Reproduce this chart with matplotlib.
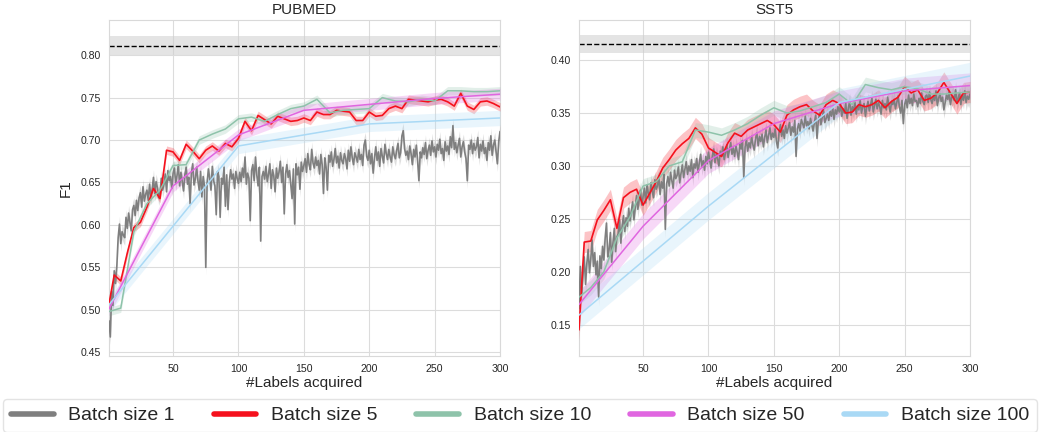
"""Active learning curves: F1 vs #labels acquired for different batch sizes."""
import matplotlib
matplotlib.use('Agg')
import matplotlib.pyplot as plt
from matplotlib.lines import Line2D
import numpy as np
import seaborn as sns

BATCHES = [1, 5, 10, 50, 100]
LABELS = ['Batch size 1', 'Batch size 5', 'Batch size 10', 'Batch size 50', 'Batch size 100']
COLORS = ['#7f7f7f', '#f5111d', '#8ec3aa', '#e066e0', '#a9d9f5']
WIDTHS = [1.2, 1.2, 1.1, 1.1, 1.1]

# ---- PUBMED ----
pubmed_b1 = [
    0.487, 0.468, 0.522, 0.505, 0.546, 0.531, 0.552, 0.585, 0.601, 0.578,
    0.592, 0.588, 0.585, 0.609, 0.596, 0.614, 0.603, 0.593, 0.618, 0.623,
    0.611, 0.629, 0.617, 0.632, 0.638, 0.621, 0.645, 0.628, 0.636, 0.641,
    0.629, 0.648, 0.633, 0.642, 0.656, 0.637, 0.651, 0.644, 0.632, 0.638,
    0.655, 0.641, 0.648, 0.660, 0.639, 0.664, 0.652, 0.657, 0.643, 0.661,
    0.667, 0.649, 0.658, 0.671, 0.646, 0.662, 0.651, 0.640, 0.659, 0.668,
    0.648, 0.656, 0.625, 0.661, 0.672, 0.647, 0.654, 0.668, 0.652, 0.641,
    0.663, 0.633, 0.657, 0.646, 0.550, 0.649, 0.666, 0.655, 0.641, 0.669,
    0.652, 0.646, 0.612, 0.663, 0.657, 0.609, 0.655, 0.648, 0.668, 0.622,
    0.659, 0.618, 0.651, 0.665, 0.654, 0.660, 0.643, 0.663, 0.655, 0.649,
    0.662, 0.651, 0.667, 0.656, 0.680, 0.648, 0.661, 0.655, 0.605, 0.664,
    0.671, 0.652, 0.680, 0.659, 0.646, 0.668, 0.581, 0.657, 0.663, 0.654,
    0.669, 0.651, 0.660, 0.672, 0.643, 0.665, 0.658, 0.639, 0.667, 0.655,
    0.662, 0.675, 0.650, 0.668, 0.613, 0.660, 0.671, 0.656, 0.664, 0.648,
    0.631, 0.666, 0.601, 0.672, 0.659, 0.668, 0.642, 0.674, 0.663, 0.670,
    0.678, 0.662, 0.684, 0.671, 0.665, 0.689, 0.673, 0.667, 0.680, 0.670,
    0.676, 0.660, 0.683, 0.671, 0.637, 0.679, 0.668, 0.641, 0.682, 0.674,
    0.686, 0.669, 0.677, 0.690, 0.673, 0.681, 0.667, 0.685, 0.676, 0.672,
    0.684, 0.678, 0.666, 0.688, 0.675, 0.692, 0.679, 0.671, 0.685, 0.680,
    0.674, 0.689, 0.677, 0.683, 0.670, 0.694, 0.700, 0.681, 0.676, 0.688,
    0.672, 0.684, 0.661, 0.679, 0.692, 0.676, 0.686, 0.669, 0.690, 0.681,
    0.673, 0.695, 0.684, 0.677, 0.689, 0.680, 0.674, 0.692, 0.683, 0.678,
    0.688, 0.696, 0.679, 0.685, 0.705, 0.711, 0.690, 0.682, 0.687, 0.677,
    0.693, 0.684, 0.671, 0.689, 0.680, 0.694, 0.675, 0.652, 0.686, 0.679,
    0.691, 0.683, 0.697, 0.678, 0.688, 0.694, 0.682, 0.699, 0.686, 0.692,
    0.680, 0.695, 0.688, 0.701, 0.684, 0.690, 0.676, 0.698, 0.687, 0.693,
    0.683, 0.704, 0.691, 0.717, 0.689, 0.697, 0.685, 0.694, 0.702, 0.680,
    0.692, 0.698, 0.686, 0.678, 0.652, 0.694, 0.689, 0.700, 0.684, 0.696,
    0.688, 0.692, 0.703, 0.679, 0.695, 0.687, 0.699, 0.684, 0.691, 0.676,
    0.697, 0.688, 0.705, 0.682, 0.694, 0.700, 0.686, 0.672, 0.698, 0.710,
]
pubmed_b5 = [
    0.507, 0.541, 0.534, 0.567, 0.597, 0.603, 0.621, 0.643, 0.631, 0.688,
    0.686, 0.676, 0.695, 0.687, 0.678, 0.688, 0.693, 0.687, 0.696, 0.692,
    0.702, 0.722, 0.711, 0.729, 0.724, 0.719, 0.728, 0.725, 0.722, 0.723,
    0.726, 0.723, 0.733, 0.730, 0.730, 0.735, 0.734, 0.733, 0.723, 0.723,
    0.733, 0.728, 0.729, 0.737, 0.740, 0.737, 0.748, 0.747, 0.746, 0.745,
    0.747, 0.748, 0.745, 0.740, 0.755, 0.740, 0.736, 0.745, 0.746, 0.743,
    0.739,
]
pubmed_b10 = [
    0.498, 0.502, 0.592, 0.625, 0.641, 0.670, 0.671, 0.700, 0.707, 0.713,
    0.725, 0.727, 0.722, 0.730, 0.737, 0.740, 0.748, 0.732, 0.735, 0.736,
    0.737, 0.750, 0.746, 0.745, 0.748, 0.746, 0.758, 0.758, 0.757, 0.757,
    0.758,
]
pubmed_b50 = [0.501, 0.646, 0.706, 0.735, 0.742, 0.749, 0.754]
pubmed_b100 = [0.506, 0.693, 0.719, 0.726]
pubmed_spread = [0.009, 0.005, 0.005, 0.007, 0.009]
pubmed_full = 0.811
pubmed_full_band = (0.800, 0.823)

# ---- SST5 ----
sst5_b1 = [
    0.165, 0.205, 0.178, 0.196, 0.214, 0.188, 0.208, 0.221, 0.199, 0.212,
    0.230, 0.205, 0.218, 0.197, 0.210, 0.176, 0.215, 0.203, 0.224, 0.211,
    0.232, 0.246, 0.214, 0.221, 0.237, 0.209, 0.228, 0.241, 0.219, 0.233,
    0.236, 0.249, 0.227, 0.244, 0.253, 0.238, 0.251, 0.243, 0.260, 0.248,
    0.257, 0.266, 0.249, 0.261, 0.272, 0.259, 0.268, 0.277, 0.263, 0.271,
    0.279, 0.265, 0.282, 0.274, 0.268, 0.284, 0.276, 0.270, 0.287, 0.278,
    0.281, 0.290, 0.273, 0.285, 0.279, 0.292, 0.240, 0.283, 0.290, 0.281,
    0.294, 0.286, 0.279, 0.296, 0.288, 0.291, 0.299, 0.284, 0.293, 0.301,
    0.289, 0.297, 0.304, 0.292, 0.300, 0.295, 0.306, 0.289, 0.302, 0.298,
    0.307, 0.294, 0.303, 0.311, 0.299, 0.305, 0.296, 0.309, 0.302, 0.313,
    0.305, 0.298, 0.310, 0.316, 0.303, 0.311, 0.307, 0.300, 0.314, 0.309,
    0.318, 0.306, 0.312, 0.320, 0.308, 0.315, 0.322, 0.311, 0.317, 0.309,
    0.319, 0.313, 0.306, 0.321, 0.316, 0.324, 0.289, 0.318, 0.325, 0.314,
    0.322, 0.317, 0.328, 0.320, 0.315, 0.326, 0.331, 0.319, 0.328, 0.323,
    0.330, 0.318, 0.327, 0.334, 0.322, 0.329, 0.336, 0.325, 0.331, 0.327,
    0.335, 0.323, 0.317, 0.332, 0.339, 0.328, 0.334, 0.326, 0.338, 0.331,
    0.336, 0.341, 0.329, 0.337, 0.332, 0.343, 0.309, 0.335, 0.340, 0.333,
    0.344, 0.340, 0.336, 0.347, 0.338, 0.342, 0.335, 0.345, 0.339, 0.333,
    0.341, 0.348, 0.326, 0.343, 0.350, 0.339, 0.346, 0.352, 0.341, 0.345,
    0.349, 0.343, 0.352, 0.347, 0.355, 0.344, 0.353, 0.349, 0.356, 0.351,
    0.358, 0.347, 0.354, 0.350, 0.359, 0.345, 0.355, 0.361, 0.348, 0.356,
    0.352, 0.360, 0.349, 0.357, 0.353, 0.362, 0.350, 0.356, 0.359, 0.347,
    0.355, 0.361, 0.352, 0.358, 0.364, 0.351, 0.357, 0.363, 0.354, 0.360,
    0.356, 0.349, 0.362, 0.355, 0.359, 0.353, 0.365, 0.357, 0.351, 0.361,
    0.358, 0.363, 0.354, 0.360, 0.366, 0.356, 0.350, 0.362, 0.340, 0.358,
    0.363, 0.355, 0.367, 0.359, 0.364, 0.357, 0.368, 0.361, 0.362, 0.356,
    0.364, 0.359, 0.369, 0.361, 0.358, 0.366, 0.367, 0.360, 0.370, 0.363,
    0.359, 0.366, 0.362, 0.371, 0.357, 0.364, 0.368, 0.361, 0.365, 0.353,
    0.360, 0.367, 0.363, 0.370, 0.358, 0.365, 0.366, 0.362, 0.372, 0.360,
    0.364, 0.369, 0.358, 0.367, 0.362, 0.371, 0.360, 0.366, 0.363, 0.368,
]
sst5_b5 = [
    0.145, 0.228, 0.229, 0.249, 0.258, 0.268, 0.241, 0.270, 0.275, 0.278,
    0.263, 0.274, 0.285, 0.298, 0.306, 0.315, 0.321, 0.326, 0.336, 0.330,
    0.317, 0.313, 0.309, 0.322, 0.331, 0.328, 0.334, 0.337, 0.340, 0.343,
    0.339, 0.332, 0.348, 0.353, 0.356, 0.358, 0.352, 0.348, 0.358, 0.362,
    0.359, 0.350, 0.351, 0.358, 0.356, 0.358, 0.362, 0.355, 0.361, 0.365,
    0.375, 0.369, 0.372, 0.362, 0.364, 0.369, 0.379, 0.369, 0.359, 0.369,
    0.370,
]
sst5_b10 = [
    0.176, 0.185, 0.200, 0.232, 0.252, 0.281, 0.285, 0.300, 0.304, 0.334,
    0.332, 0.329, 0.334, 0.340, 0.348, 0.355, 0.350, 0.352, 0.356, 0.360,
    0.368, 0.358, 0.377, 0.374, 0.372, 0.375, 0.373, 0.368, 0.368, 0.369,
    0.370,
]
sst5_b50 = [0.169, 0.243, 0.305, 0.340, 0.359, 0.371, 0.376]
sst5_b100 = [0.159, 0.262, 0.360, 0.385]
sst5_spread = [0.008, 0.010, 0.007, 0.012, 0.013]
sst5_full = 0.4155
sst5_full_band = (0.407, 0.4235)


def steps(batch):
    if batch == 1:
        return list(range(1, 301))
    return [1] + list(range(batch, 301, batch))


def draw_panel(ax, series, spreads, full, full_band, title, ylim, yticks):
    ax.axhspan(full_band[0], full_band[1], color='#cfcfcf', alpha=0.55, lw=0, zorder=1)
    ax.axhline(full, color='black', ls='--', lw=1.0, zorder=2)
    for b, y, s, c, w in zip(BATCHES, series, spreads, COLORS, WIDTHS):
        x = steps(b)
        y = np.array(y)
        ax.fill_between(x, y - s, y + s, color=c, alpha=0.25, lw=0, zorder=3)
        ax.plot(x, y, color=c, lw=w, zorder=4)
    ax.set_xlim(1, 300)
    ax.set_ylim(*ylim)
    ax.set_yticks(yticks)
    ax.set_xticks([50, 100, 150, 200, 250, 300])
    ax.set_title(title, fontsize=11, pad=4)
    ax.set_xlabel('#Labels acquired', fontsize=11, labelpad=2)
    ax.tick_params(labelsize=7.6, pad=2)
    for sp in ax.spines.values():
        sp.set_color('#d9d9d9')


def main():
    sns.set_style('whitegrid')
    plt.rcParams['font.family'] = ['Liberation Sans', 'DejaVu Sans']
    plt.rcParams['grid.color'] = '#dcdcdc'

    fig = plt.figure(figsize=(10.43, 4.32), dpi=100)
    ax1 = fig.add_axes([109 / 1043, 76 / 432, 391 / 1043, 336 / 432])
    ax2 = fig.add_axes([579 / 1043, 76 / 432, 391 / 1043, 336 / 432])

    draw_panel(ax1, [pubmed_b1, pubmed_b5, pubmed_b10, pubmed_b50, pubmed_b100],
               pubmed_spread, pubmed_full, pubmed_full_band, 'PUBMED',
               (0.4456, 0.8414), [0.45, 0.50, 0.55, 0.60, 0.65, 0.70, 0.75, 0.80])
    draw_panel(ax2, [sst5_b1, sst5_b5, sst5_b10, sst5_b50, sst5_b100],
               sst5_spread, sst5_full, sst5_full_band, 'SST5',
               (0.1203, 0.438), [0.15, 0.20, 0.25, 0.30, 0.35, 0.40])
    ax1.set_ylabel('F1', fontsize=11, labelpad=6)

    handles = [Line2D([], [], color=c, lw=4) for c in COLORS]
    fig.legend(handles, LABELS, loc='upper left', bbox_to_anchor=(3 / 1043, 1 - 399 / 432),
               ncol=5, fontsize=14, frameon=True, handlelength=2.2, handletextpad=0.75,
               columnspacing=2.0, borderpad=0.4, borderaxespad=0.0, edgecolor='#dddddd')

    fig.savefig('out.png', dpi=100)


if __name__ == '__main__':
    main()
